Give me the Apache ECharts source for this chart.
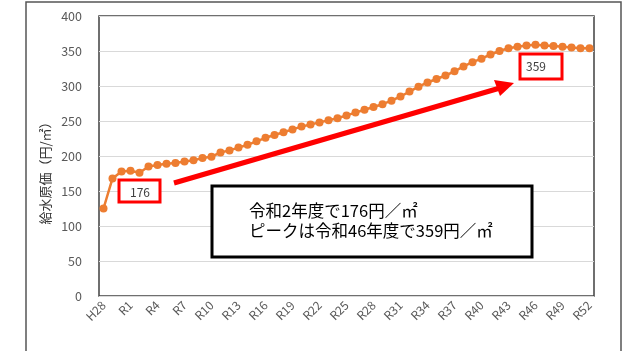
<!DOCTYPE html>
<html>
<head>
<meta charset="utf-8">
<script src="https://cdn.jsdelivr.net/npm/echarts@6/dist/echarts.min.js"></script>
<style>
  html, body { margin: 0; padding: 0; background: #fff; }
  #chart { width: 636px; height: 351px; }
</style>
</head>
<body>
<div id="chart"></div>
<script>
// Fiscal years: H28–H30, then Reiwa 1–52
const years = ['H28', 'H29', 'H30'];
for (let r = 1; r <= 52; r++) years.push('R' + r);

// Water supply unit cost (yen per cubic metre)
const unitCost = [
  125, 168, 178, 179, 176, 185, 187, 189, 190, 192,
  194, 197, 199, 205, 208, 212, 216, 221, 226, 230,
  234, 238, 242, 245, 248, 251, 254, 258, 262, 266,
  270, 274, 279, 285, 292, 299, 305, 310, 315, 321,
  328, 334, 339, 345, 350, 354, 356, 358, 359, 358,
  357, 356, 355, 354, 354
];

// Axis scale
const yMin = 0, yMax = 400, yStep = 50;

// Highlighted years
const firstIdx = years.indexOf('R2');
const peakIdx = years.indexOf('R46');

const FONT = '"Noto Sans CJK JP", "Noto Sans", sans-serif';
const chart = echarts.init(document.getElementById('chart'));

chart.setOption({
  backgroundColor: '#ffffff',
  animation: false,
  grid: {
    left: 99, top: 16, right: 42, bottom: 55,
    show: true, borderColor: '#404040', borderWidth: 1.5,
    backgroundColor: 'transparent'
  },
  xAxis: {
    type: 'category',
    data: years,
    boundaryGap: true,
    axisLine: { show: false },
    axisTick: { show: false },
    axisLabel: {
      interval: 2, rotate: 45, margin: 7,
      color: '#595959', fontSize: 12, fontFamily: FONT
    },
    splitLine: { show: false }
  },
  yAxis: {
    type: 'value',
    min: yMin, max: yMax, interval: yStep,
    axisLine: { show: false },
    axisTick: { show: false },
    axisLabel: { margin: 17, color: '#595959', fontSize: 12.5, fontFamily: FONT },
    splitLine: { lineStyle: { color: '#d9d9d9', width: 1.2 } }
  },
  series: [{
    type: 'line',
    data: unitCost,
    symbol: 'circle',
    symbolSize: 8,
    showSymbol: true,
    showAllSymbol: true,
    lineStyle: { color: '#ED7D31', width: 2.5 },
    itemStyle: { color: '#ED7D31' },
    z: 3
  }],
  graphic: [
    // outer frame
    { type: 'rect', shape: { x: 26, y: 2, width: 595, height: 400 },
      style: { fill: 'none', stroke: '#555', lineWidth: 1.5 }, z: 0 },
    // axis title
    { type: 'text', x: 45, y: 170, rotation: Math.PI / 2,
      style: { text: '給水原価（円/㎡）', fill: '#333', font: '13px ' + FONT,
               align: 'center', verticalAlign: 'middle' } },
    // first-year value box
    { type: 'rect', shape: { x: 119, y: 180, width: 41, height: 22 },
      style: { fill: '#fff', stroke: '#ff0000', lineWidth: 3 }, z: 10 },
    { type: 'text', x: 140, y: 192,
      style: { text: String(unitCost[firstIdx]), fill: '#404040', font: '12px ' + FONT,
               align: 'center', verticalAlign: 'middle' }, z: 11 },
    // peak value box
    { type: 'rect', shape: { x: 520, y: 54, width: 42, height: 25 },
      style: { fill: '#fff', stroke: '#ff0000', lineWidth: 3 }, z: 10 },
    { type: 'text', x: 526, y: 66,
      style: { text: String(unitCost[peakIdx]), fill: '#404040', font: '12px ' + FONT,
               align: 'left', verticalAlign: 'middle' }, z: 11 },
    // arrow
    { type: 'line', shape: { x1: 174, y1: 183, x2: 500, y2: 88 },
      style: { stroke: '#ff0000', lineWidth: 5 }, z: 9 },
    { type: 'polygon', shape: { points: [[514, 83], [494, 80], [500, 96]] },
      style: { fill: '#ff0000' }, z: 9 },
    // note box
    { type: 'rect', shape: { x: 212, y: 186, width: 320, height: 71 },
      style: { fill: '#fff', stroke: '#000', lineWidth: 3 }, z: 10 },
    { type: 'text', x: 249, y: 211,
      style: { text: '令和2年度で176円／㎡', fill: '#000', font: '16.5px ' + FONT,
               align: 'left', verticalAlign: 'middle' }, z: 11 },
    { type: 'text', x: 249, y: 231,
      style: { text: 'ピークは令和46年度で359円／㎡', fill: '#000', font: '16.5px ' + FONT,
               align: 'left', verticalAlign: 'middle' }, z: 11 }
  ]
});
</script>
</body>
</html>
